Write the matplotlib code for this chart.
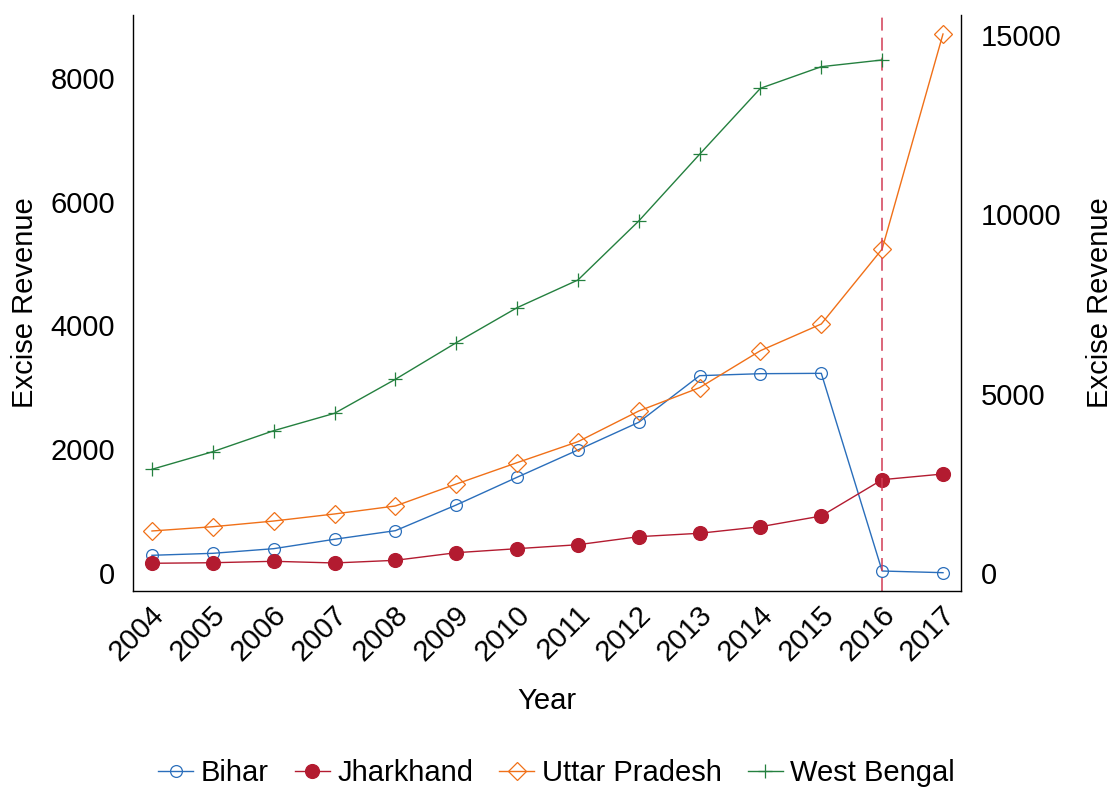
import matplotlib
matplotlib.use("Agg")
import matplotlib.pyplot as plt
from matplotlib.transforms import ScaledTranslation

# Excise revenue by state and year
years = [2004, 2005, 2006, 2007, 2008, 2009, 2010, 2011, 2012, 2013, 2014, 2015, 2016, 2017]
bihar = [286, 318, 393, 545, 684, 1099, 1547, 1988, 2436, 3189, 3221, 3227, 32, 5]
jharkhand = [157, 166, 189, 162, 205, 328, 393, 457, 587, 642, 748, 921, 1508, 1600]
uttar_pradesh = [679, 748, 840, 954, 1083, 1438, 1783, 2122, 2618, 2995, 3593, 4024, 5236, 8711]
# West Bengal is plotted against the right-hand axis (no 2017 figure)
wb_years = [2004, 2005, 2006, 2007, 2008, 2009, 2010, 2011, 2012, 2013, 2014, 2015, 2016]
west_bengal = [2891, 3382, 3967, 4452, 5400, 6420, 7396, 8168, 9813, 11673, 13513, 14115, 14302]

left_ticks = [0, 2000, 4000, 6000, 8000]
right_ticks = [0, 5000, 10000, 15000]
policy_year = 2016

plt.rcParams['font.family'] = ['Liberation Sans', 'DejaVu Sans']
FS = 21

C_BIHAR = '#2a6ebb'
C_JHAR = '#b31b30'
C_UP = '#f07018'
C_WB = '#24803f'
C_VLINE = '#d23c55'

W, H = 1113, 789
fig = plt.figure(figsize=(W / 100, H / 100), dpi=100)
x0, x1, y_top, y_bot = 133, 961, 15, 591
ax = fig.add_axes([x0 / W, 1 - y_bot / H, (x1 - x0) / W, (y_bot - y_top) / H])
ax2 = ax.twinx()

lw = 1.0
mew = 0.9
l_b, = ax.plot(years, bihar, color=C_BIHAR, lw=lw, marker='o', ms=8.5,
               mfc='none', mec=C_BIHAR, mew=mew, label='Bihar')
l_j, = ax.plot(years, jharkhand, color=C_JHAR, lw=lw, marker='o', ms=10,
               mfc=C_JHAR, mec=C_JHAR, mew=mew, label='Jharkhand')
l_u, = ax.plot(years, uttar_pradesh, color=C_UP, lw=lw, marker='D', ms=9.5,
               mfc='none', mec=C_UP, mew=mew, label='Uttar Pradesh')
ax.axvline(policy_year, color=C_VLINE, lw=1.1, dashes=(8.5, 4.6))
l_w, = ax2.plot(wb_years, west_bengal, color=C_WB, lw=lw, marker='+', ms=10,
                mec=C_WB, mew=mew, label='West Bengal')

ax.set_xlim(2003.688, 2017.296)
ax.set_ylim(-291, 9018)
ax2.set_ylim(-502, 15556)

ax.set_xticks(years)
ax.set_xticklabels([str(y) for y in years], rotation=45, ha='right', va='center',
                   rotation_mode='anchor', fontsize=FS)
ax.set_yticks(left_ticks)
ax.set_yticklabels([str(v) for v in left_ticks], fontsize=FS)
ax2.set_yticks(right_ticks)
ax2.set_yticklabels([str(v) for v in right_ticks], fontsize=FS)

ax.tick_params(axis='x', length=0, pad=14)
ax.tick_params(axis='y', length=0, pad=13)
ax2.tick_params(axis='y', length=0, pad=14.5)

# nudge the slanted year labels to the right of their ticks
shift = ScaledTranslation(8 / 100, 0, fig.dpi_scale_trans)
for tick in ax.xaxis.get_major_ticks():
    tick.label1.set_transform(tick.label1.get_transform() + shift)

for a in (ax, ax2):
    for s in a.spines.values():
        s.set_linewidth(1.0)
        s.set_color('black')
    a.spines['top'].set_visible(False)
ax.spines['right'].set_visible(False)
ax2.spines['left'].set_visible(False)
ax2.spines['bottom'].set_visible(False)

ax.set_xlabel('Year', fontsize=FS, labelpad=15)
ax.set_ylabel('Excise Revenue', fontsize=FS, labelpad=8)
ax2.set_ylabel('Excise Revenue', fontsize=FS, labelpad=17)

fig.legend(handles=[l_b, l_j, l_u, l_w], loc='center',
           bbox_to_anchor=(0.5, 1 - 773 / H), ncol=4, frameon=False,
           fontsize=FS, handlelength=1.2, handletextpad=0.25, columnspacing=0.9)

fig.savefig('out.png', dpi=100)
